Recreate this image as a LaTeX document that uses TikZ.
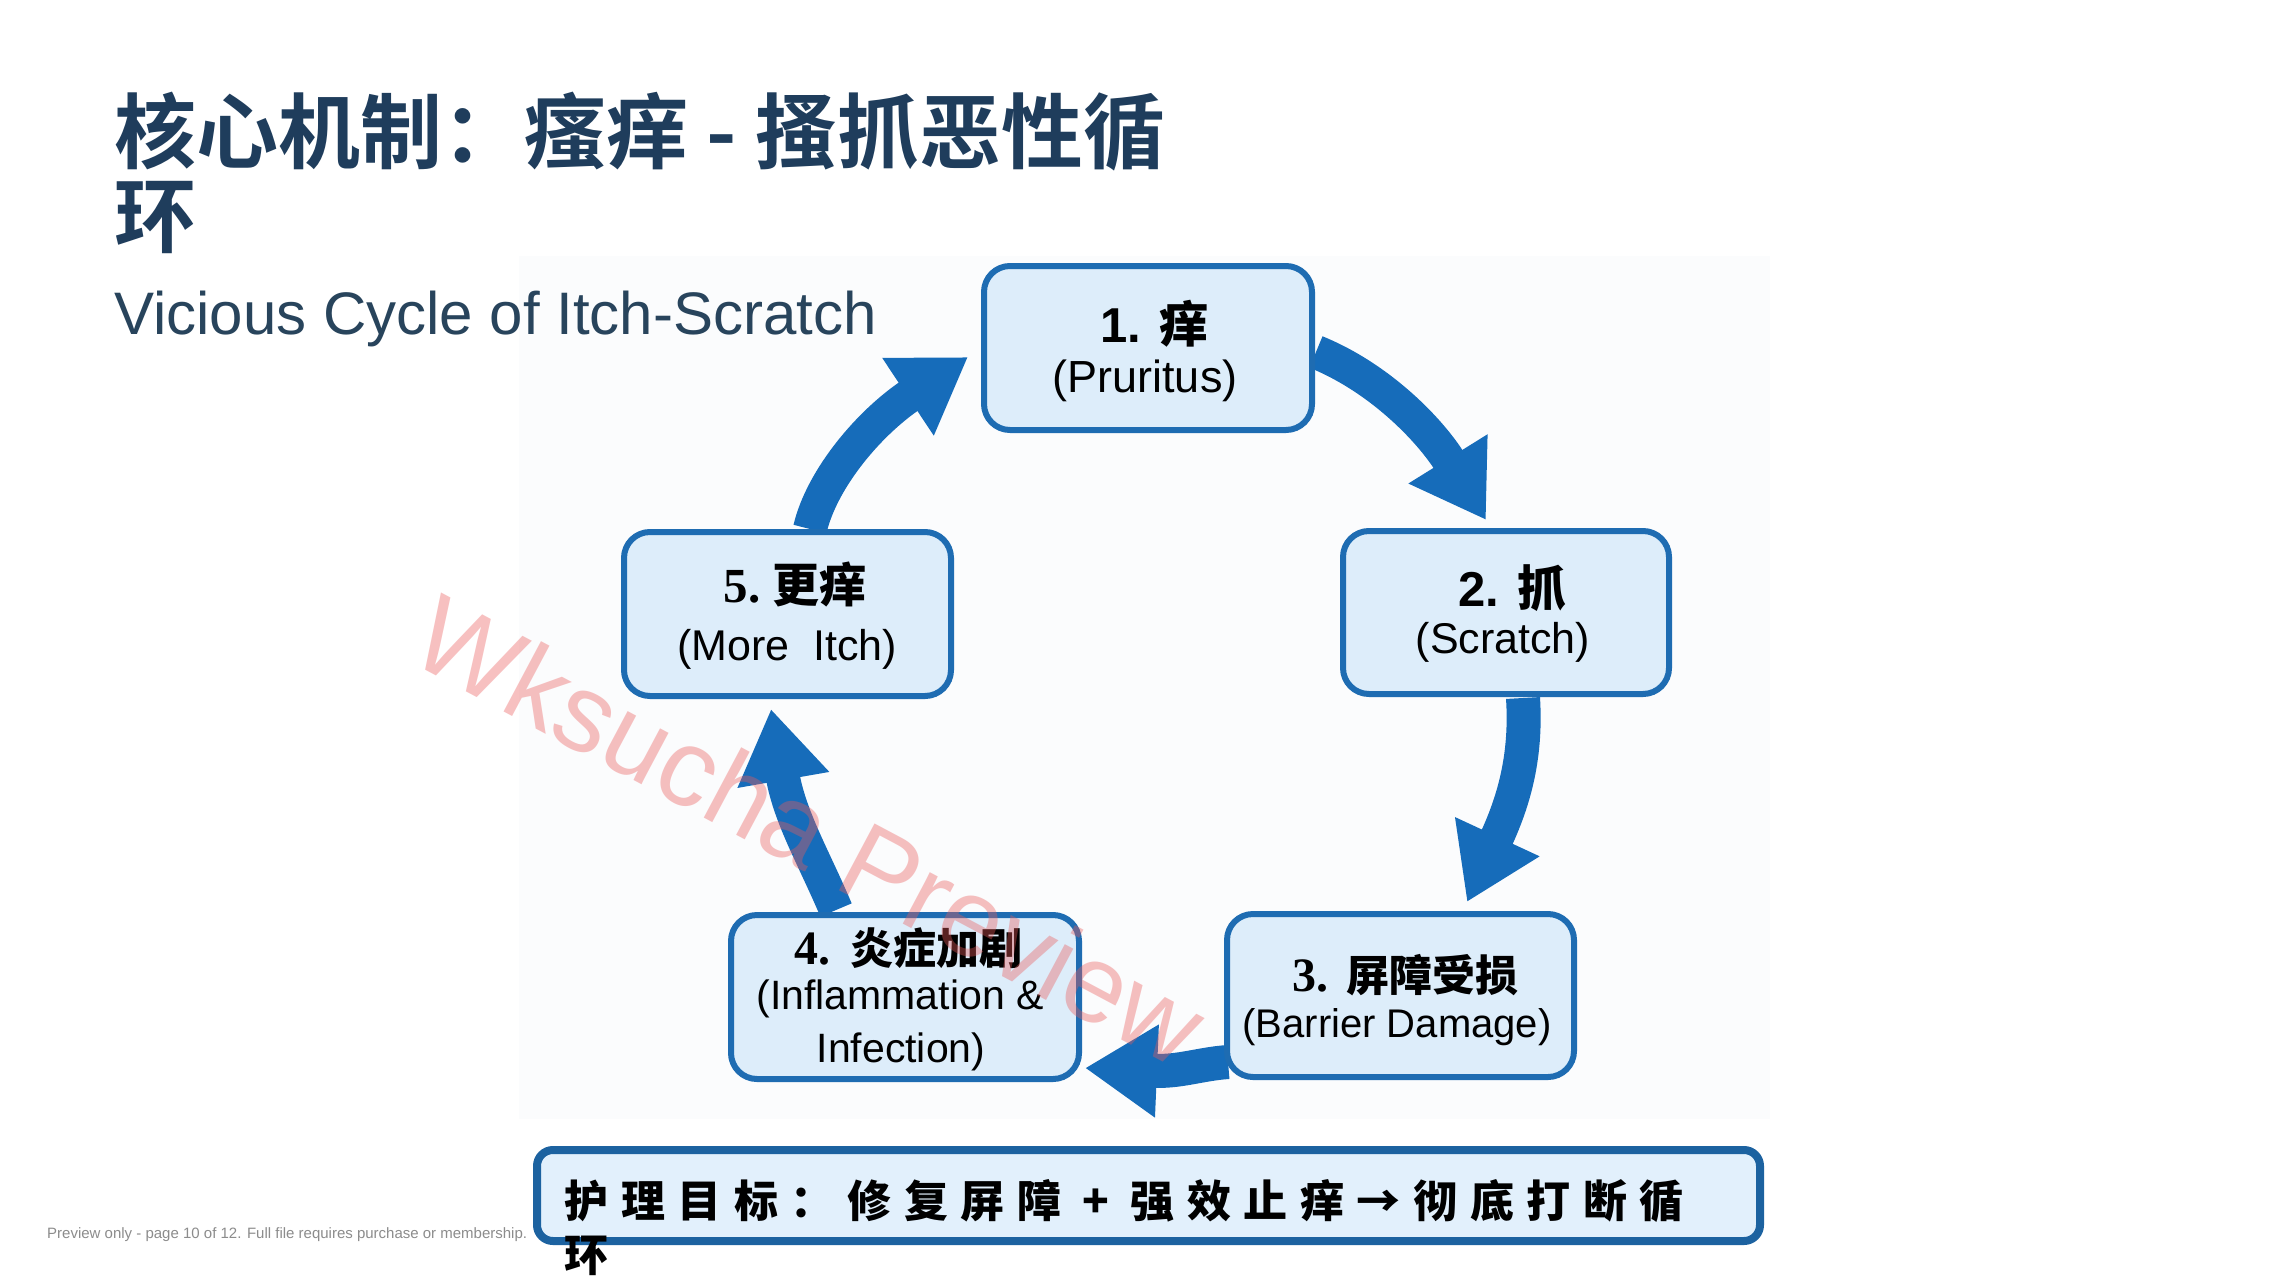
\documentclass[tikz,border=0pt]{standalone}
\usepackage{fontspec}
\setmainfont{Liberation Sans}
\newfontfamily\cjkb{Noto Sans CJK SC Bold}
\newfontfamily\cjkh{Noto Sans CJK SC Black}
\newfontfamily\lsans{Liberation Sans}
\newfontfamily\lserif{Liberation Serif}
\usetikzlibrary{arrows.meta,calc}
\definecolor{titlec}{RGB}{31,61,92}
\definecolor{subc}{RGB}{40,68,92}
\definecolor{boxline}{RGB}{30,108,178}
\definecolor{boxfill}{RGB}{221,237,250}
\definecolor{arrowc}{RGB}{22,108,186}
\definecolor{goalline}{RGB}{28,98,160}
\definecolor{goalfill}{RGB}{226,240,252}
\definecolor{footc}{RGB}{140,140,140}
\definecolor{wmc}{RGB}{235,90,90}
\definecolor{panelc}{RGB}{251,252,253}
\newcommand\fsz[1]{\fontsize{#1}{#1}\selectfont}
\newcommand\slotc[1]{\makebox[56.6pt][c]{#1}}
\pgfdeclarelayer{bg}
\pgfsetlayers{bg,main}
\begin{document}
\begin{tikzpicture}[x=1pt,y=-1pt,
  cyclebox/.style={draw=boxline, line width=6pt, fill=boxfill, rounded corners=26pt, inner sep=0pt},
  lbl/.style={anchor=base, inner sep=0pt, text=black},
  bigarrow/.style={draw=arrowc, line width=34pt, -{Triangle[length=72pt,width=88pt]}},
  goalbox/.style={draw=goalline, line width=8pt, fill=goalfill, rounded corners=16pt, inner sep=0pt},
]
\useasboundingbox (0,0) rectangle (2294,1280);

% title
\node[anchor=base west, inner sep=0pt, text=titlec] (title1) at (114,162) {\fsz{82}\cjkb 核心机制：瘙痒 - 搔抓恶性循};
\node[anchor=base west, inner sep=0pt, text=titlec] (title2) at (114,246) {\fsz{82}\cjkb 环};
\node[anchor=base west, inner sep=0pt, text=subc] (subtitle) at (114,334) {\fsz{60}\lsans Vicious Cycle of Itch-Scratch};

% boxes
\node[cyclebox, minimum width=328pt, minimum height=164pt] (b1) at (1148,348) {};
\node[cyclebox, minimum width=326pt, minimum height=163pt] (b2) at (1506,612.5) {};
\node[cyclebox, minimum width=347pt, minimum height=163pt] (b3) at (1400.5,995.5) {};
\node[cyclebox, minimum width=348pt, minimum height=164pt] (b4) at (905,997) {};
\node[cyclebox, minimum width=327pt, minimum height=164pt] (b5) at (787.5,614) {};

% labels
\node[lbl] (t1a) at (1154,342) {\fsz{49}\lsans\bfseries 1. {\cjkb 痒}};
\node[lbl] (t1b) at (1145,392) {\fsz{45}\lsans (Pruritus)};
\node[lbl] (t2a) at (1512,606) {\fsz{49}\lsans\bfseries 2. {\cjkb 抓}};
\node[lbl] (t2b) at (1503,653) {\fsz{43}\lsans (Scratch)};
\node[lbl] (t3a) at (1405,991) {\fsz{48}\lserif\bfseries 3.\hspace{18pt}{\cjkb\fsz{43}屏障受损}};
\node[lbl] (t3b) at (1397,1037) {\fsz{40}\lsans (Barrier Damage)};
\node[lbl] (t4a) at (908,964) {\fsz{48}\lserif\bfseries 4.\hspace{20pt}{\cjkb\fsz{43}炎症加剧}};
\node[lbl] (t4b) at (900,1009) {\fsz{41}\lsans (Inflammation \&};
\node[lbl] (t4c) at (901,1062) {\fsz{41}\lsans Infection)};
\node[lbl] (t5a) at (795,602) {\fsz{49}\lserif\bfseries 5.\hspace{12pt}{\cjkb\fsz{47}更痒}};
\node[lbl] (t5b) at (787,660) {\fsz{43}\lsans (More\ \ Itch)};

% goal box
\node[goalbox, minimum width=1223pt, minimum height=91pt] (goal) at (1148.5,1195.5) {};
\node[anchor=base west, inner sep=0pt] (goalt1) at (558,1217) {\fsz{44}\cjkh\slotc{护}\slotc{理}\slotc{目}\slotc{标}\slotc{：}\slotc{修}\slotc{复}\slotc{屏}\slotc{障}\slotc{+}\slotc{强}\slotc{效}\slotc{止}\slotc{痒}\slotc{→}\slotc{彻}\slotc{底}\slotc{打}\slotc{断}\slotc{循}};
\node[anchor=base west, inner sep=0pt] (goalt2) at (558,1271) {\fsz{44}\cjkh\slotc{环}};

% footer
\node[anchor=base west, inner sep=0pt, text=footc] (foot) at (47,1238) {\fsz{15}\lsans Preview only - page 10 of 12. Full file requires purchase or membership.};

% arrows and background
\begin{pgfonlayer}{bg}
\fill[white] (0,0) rectangle (2294,1280);
\fill[panelc] (519,256) rectangle (1770,1119);
\draw[bigarrow] ($(b1.east)+(1,4)$) .. controls (1380,378) and (1430,430) .. ($(b2.north)+(-20,-8)$);
\draw[bigarrow] ($(b2.south)+(17,1)$) .. controls (1527,760) and (1512,805) .. ($(b3.north)+(66.5,-9)$);
\draw[bigarrow] ($(b3.south west)+(4,-18)$) .. controls (1200,1064) and (1180,1072) .. ($(b4.south east)+(3,-14)$);
\draw[bigarrow] ($(b4.north)+(-69,-2)$) .. controls (815,860) and (790,818) .. ($(b5.south)+(-16.5,10)$);
\draw[bigarrow] ($(b5.north)+(22.5,0)$) .. controls (822,478) and (870,422) .. ($(b1.west)+(-13,9)$);
\end{pgfonlayer}

% watermark
\node[rotate=-28, text=wmc, opacity=0.38, inner sep=0pt] (wm) at (810,830) {\fsz{110}\lsans Wksucha Preview};
\end{tikzpicture}
\end{document}
